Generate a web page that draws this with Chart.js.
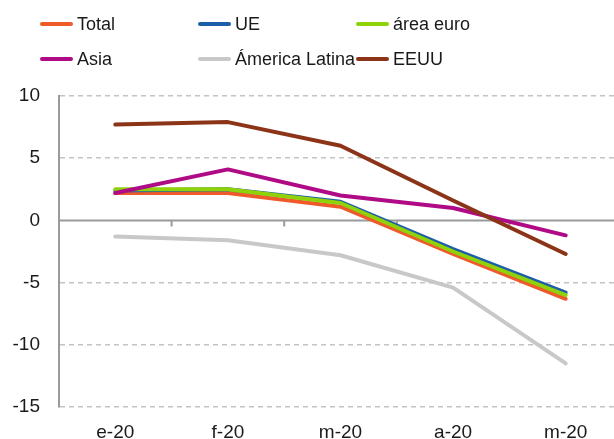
<!DOCTYPE html>
<html>
<head>
  <meta charset="utf-8">
  <title>Total, UE, área euro, Asia, América Latina, EEUU</title>
  <script src="https://cdn.jsdelivr.net/npm/chart.js"></script>
  <style>
    html, body {
      margin: 0;
      padding: 0;
      width: 614px;
      height: 439px;
      overflow: hidden;
      background: #ffffff;
      font-family: "Liberation Sans", Arial, sans-serif;
    }
    #chart {
      position: absolute;
      left: 0;
      top: 0;
    }
    .legend-item {
      position: absolute;
      height: 22px;
      display: flex;
      align-items: center;
      font-size: 18px;
      color: #1a1a1a;
      white-space: nowrap;
    }
    .legend-item .swatch {
      width: 33px;
      height: 4px;
      border-radius: 2px;
      margin-right: 4px;
    }
  </style>
</head>
<body>
  <canvas id="chart" width="623" height="439"></canvas>
  <div id="legend"></div>

  <script>
    // datos
    const months = ['e-20', 'f-20', 'm-20', 'a-20', 'm-20'];
    const total = [2.2, 2.2, 1.1, -2.7, -6.3];
    const ue = [2.4, 2.5, 1.5, -2.3, -5.8];
    const areaEuro = [2.5, 2.5, 1.4, -2.5, -6.0];
    const asia = [2.2, 4.1, 2.0, 1.0, -1.2];
    const americaLatina = [-1.3, -1.6, -2.8, -5.4, -11.5];
    const eeuu = [7.7, 7.9, 6.0, 1.6, -2.7];

    const series = [
      { label: 'Total', data: total, color: '#ee5a2a', order: 6, col: 0, row: 0 },
      { label: 'UE', data: ue, color: '#1c5ea8', order: 5, col: 1, row: 0 },
      { label: 'área euro', data: areaEuro, color: '#8fd20a', order: 4, col: 2, row: 0 },
      { label: 'Asia', data: asia, color: '#b00b86', order: 3, col: 0, row: 1 },
      { label: 'Ámerica Latina', data: americaLatina, color: '#c8c8c8', order: 2, col: 1, row: 1 },
      { label: 'EEUU', data: eeuu, color: '#8c3418', order: 1, col: 2, row: 1 }
    ];

    // leyenda (3 columnas x 2 filas)
    const legendEl = document.getElementById('legend');
    const colX = [40, 198, 356];
    const rowY = [13, 48];
    series.forEach(s => {
      const item = document.createElement('div');
      item.className = 'legend-item';
      item.style.left = colX[s.col] + 'px';
      item.style.top = rowY[s.row] + 'px';
      const sw = document.createElement('span');
      sw.className = 'swatch';
      sw.style.background = s.color;
      item.appendChild(sw);
      item.appendChild(document.createTextNode(s.label));
      legendEl.appendChild(item);
    });

    // línea del cero con marcas entre categorías
    const zeroLine = {
      id: 'zeroLine',
      beforeDatasetsDraw(chart) {
        const { ctx, chartArea, scales: { x, y } } = chart;
        const y0 = y.getPixelForValue(0);
        ctx.save();
        ctx.strokeStyle = '#9a9a9a';
        ctx.lineWidth = 2;
        ctx.beginPath();
        ctx.moveTo(chartArea.left, y0);
        ctx.lineTo(chartArea.right, y0);
        for (let i = 0; i < months.length - 1; i++) {
          const xm = (x.getPixelForValue(i) + x.getPixelForValue(i + 1)) / 2;
          ctx.moveTo(xm, y0);
          ctx.lineTo(xm, y0 + 6);
        }
        ctx.stroke();
        ctx.restore();
      }
    };

    const ctx = document.getElementById('chart').getContext('2d');
    const chart = new Chart(ctx, {
      type: 'line',
      data: {
        labels: months,
        datasets: series.map(s => ({
          label: s.label,
          data: s.data,
          borderColor: s.color,
          backgroundColor: s.color,
          borderWidth: 4,
          pointRadius: 0,
          tension: 0,
          order: s.order,
          borderCapStyle: 'round',
          borderJoinStyle: 'round'
        }))
      },
      options: {
        responsive: false,
        animation: false,
        devicePixelRatio: 1,
        layout: { padding: { top: 96, right: 1, left: 0, bottom: 0 } },
        plugins: {
          legend: { display: false },
          tooltip: { enabled: false }
        },
        scales: {
          x: {
            offset: true,
            grid: { display: false, offset: true },
            border: { display: false },
            ticks: {
              color: '#1a1a1a',
              font: { family: 'Liberation Sans', size: 19 },
              padding: 6,
              maxRotation: 0
            },
            afterFit(scale) { scale.height = 32; }
          },
          y: {
            min: -15,
            max: 10,
            ticks: {
              stepSize: 5,
              color: '#1a1a1a',
              font: { family: 'Liberation Sans', size: 19 },
              padding: 19
            },
            grid: {
              color: c => c.tick && c.tick.value === 0 ? 'rgba(0,0,0,0)' : '#c4c4c4',
              lineWidth: 1.5,
              drawTicks: false
            },
            border: { color: '#9a9a9a', width: 2, dash: [5, 4] },
            afterFit(scale) { scale.width = 59; }
          }
        }
      },
      plugins: [zeroLine]
    });
  </script>
</body>
</html>
